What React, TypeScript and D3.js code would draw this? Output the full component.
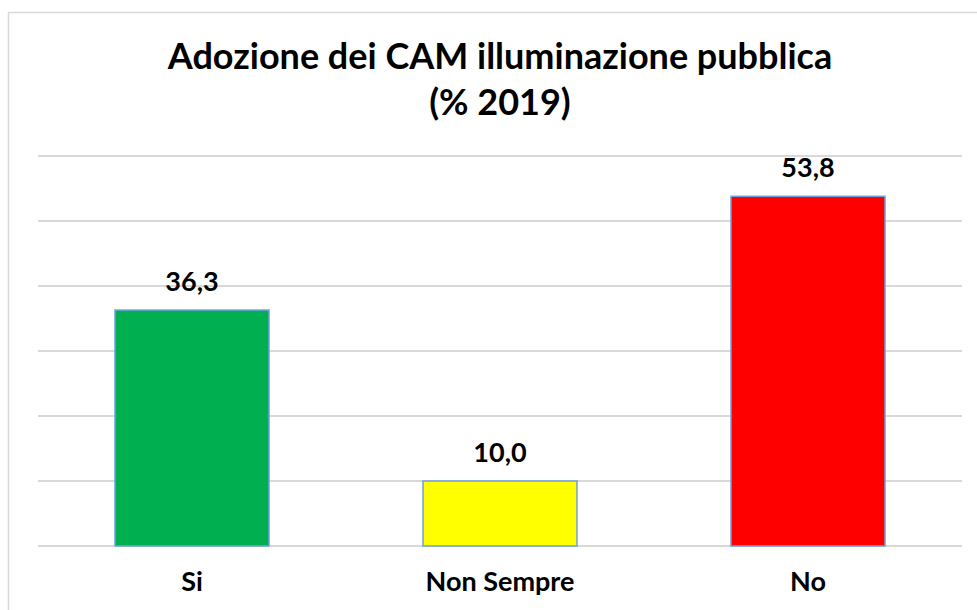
import React, { useRef, useEffect } from "react";
import * as d3 from "d3";

const categories = ["Si", "Non Sempre", "No"];
const values = [36.3, 10.0, 53.8];
const barColors = ["#00b050", "#ffff00", "#ff0000"];
const gridTicks = [0, 10, 20, 30, 40, 50, 60];
const titleLines = ["Adozione dei CAM illuminazione pubblica", "(% 2019)"];

const FONT = "Lato, 'Open Sans', sans-serif";

const App: React.FC = () => {
  const ref = useRef<SVGSVGElement | null>(null);

  useEffect(() => {
    const svg = d3.select(ref.current);
    svg.selectAll("*").remove();

    const W = 977;
    const H = 610;
    const plot = { left: 38, right: 962, top: 156, bottom: 546 };

    // chart frame (runs off the right/bottom edge like the source)
    svg
      .append("rect")
      .attr("x", 8.5)
      .attr("y", 12.5)
      .attr("width", W)
      .attr("height", H)
      .attr("fill", "#fff")
      .attr("stroke", "#d9d9d9")
      .attr("stroke-width", 1.5);

    const x = d3
      .scaleBand<string>()
      .domain(categories)
      .range([plot.left, plot.right])
      .paddingInner(0.5)
      .paddingOuter(0.25);
    const y = d3.scaleLinear().domain([0, 60]).range([plot.bottom, plot.top]);

    // title
    svg
      .append("text")
      .attr("text-anchor", "middle")
      .attr("font-family", FONT)
      .attr("font-weight", "bold")
      .attr("font-size", 36)
      .attr("fill", "#000")
      .selectAll("tspan")
      .data(titleLines)
      .enter()
      .append("tspan")
      .attr("x", 500)
      .attr("y", (_, i) => 69 + i * 46)
      .text(d => d);

    // gridlines
    svg
      .append("g")
      .selectAll("line")
      .data(gridTicks)
      .enter()
      .append("line")
      .attr("x1", plot.left)
      .attr("x2", plot.right)
      .attr("y1", d => y(d))
      .attr("y2", d => y(d))
      .attr("stroke", "#d9d9d9")
      .attr("stroke-width", 2);

    const data = categories.map((c, i) => ({ name: c, value: values[i], color: barColors[i] }));

    svg
      .append("g")
      .selectAll("rect")
      .data(data)
      .enter()
      .append("rect")
      .attr("x", d => x(d.name)!)
      .attr("y", d => y(d.value))
      .attr("width", x.bandwidth())
      .attr("height", d => y(0) - y(d.value))
      .attr("fill", d => d.color)
      .attr("stroke", "#6fa0dc")
      .attr("stroke-width", 1.5);

    // value labels
    svg
      .append("g")
      .selectAll("text")
      .data(data)
      .enter()
      .append("text")
      .attr("x", d => x(d.name)! + x.bandwidth() / 2)
      .attr("y", d => y(d.value) - 19)
      .attr("text-anchor", "middle")
      .attr("font-family", FONT)
      .attr("font-weight", "bold")
      .attr("font-size", 27)
      .text(d => d3.format(".1f")(d.value).replace(".", ","));

    // category labels
    svg
      .append("g")
      .selectAll("text")
      .data(categories)
      .enter()
      .append("text")
      .attr("x", d => x(d)! + x.bandwidth() / 2)
      .attr("y", 591)
      .attr("text-anchor", "middle")
      .attr("font-family", FONT)
      .attr("font-weight", "bold")
      .attr("font-size", 27)
      .text(d => d);
  }, []);

  return (
    <div style={{ position: "absolute", left: 0, top: 0 }}>
      <svg width={977} height={610} ref={ref} style={{ display: "block" }} />
    </div>
  );
};

export default App;
